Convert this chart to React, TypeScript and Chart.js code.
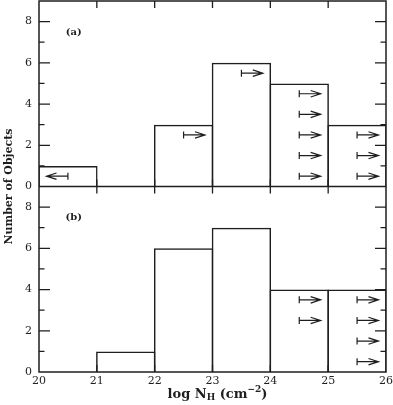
import React, { useEffect, useRef } from 'react';
import { Chart, registerables } from 'chart.js';

Chart.register(...registerables);

// ---- data ----
const binStarts = [20, 21, 22, 23, 24, 25];
const countsA = [1, 0, 3, 6, 5, 3];
const countsB = [0, 1, 6, 7, 4, 4];
const xTickValues = [20, 21, 22, 23, 24, 25, 26];
const yTickLabelValues = [0, 2, 4, 6, 8];
const panelHeight = 9; // y-range of each panel (0..9)
const panelLabels = ['(a)', '(b)'];
// limits: bin start, direction (-1 upper limit / left, +1 lower limit / right), levels
const limitsA = [
  { bin: 20, dir: -1, levels: [0.5] },
  { bin: 22, dir: 1, levels: [2.5] },
  { bin: 23, dir: 1, levels: [5.5] },
  { bin: 24, dir: 1, levels: [0.5, 1.5, 2.5, 3.5, 4.5] },
  { bin: 25, dir: 1, levels: [0.5, 1.5, 2.5] },
];
const limitsB = [
  { bin: 24, dir: 1, levels: [2.5, 3.5] },
  { bin: 25, dir: 1, levels: [0.5, 1.5, 2.5, 3.5] },
];
const yTitle = 'Number of Objects';

const INK = '#1e1e1e';
const LW = 1.5;

const framePlugin = {
  id: 'frameTicks',
  afterDatasetsDraw(chart: any) {
    const { ctx, chartArea, scales } = chart;
    const xs = scales.x;
    const ys = scales.y;
    ctx.save();
    ctx.strokeStyle = INK;
    ctx.fillStyle = INK;

    // limit arrows
    ctx.lineWidth = 1.2;
    const drawLimits = (limits: any[], offset: number) => {
      limits.forEach((l) => {
        l.levels.forEach((lv: number) => {
          const x0 = xs.getPixelForValue(l.bin + 0.5);
          const x1 = xs.getPixelForValue(l.bin + 0.5 + l.dir * 0.37);
          const py = ys.getPixelForValue(lv + offset);
          ctx.beginPath();
          ctx.moveTo(x0, py - 3.5);
          ctx.lineTo(x0, py + 3.5);
          ctx.moveTo(x0, py);
          ctx.lineTo(x1, py);
          ctx.moveTo(x1 - l.dir * 10, py - 3.2);
          ctx.lineTo(x1, py);
          ctx.lineTo(x1 - l.dir * 10, py + 3.2);
          ctx.stroke();
        });
      });
    };
    drawLimits(limitsA, panelHeight);
    drawLimits(limitsB, 0);

    // frame
    ctx.lineWidth = LW;
    const { left, right, top, bottom } = chartArea;
    const mid = ys.getPixelForValue(panelHeight);
    ctx.strokeRect(left, top, right - left, bottom - top);
    ctx.beginPath();
    ctx.moveTo(left, mid);
    ctx.lineTo(right, mid);
    ctx.stroke();

    // y ticks (inward, both sides)
    ctx.lineWidth = 1.3;
    for (let v = 0; v <= 2 * panelHeight; v++) {
      const local = v >= panelHeight ? v - panelHeight : v;
      if (local === 0 || v === 2 * panelHeight) continue;
      const len = local % 2 === 0 ? 11 : 5.5;
      const py = ys.getPixelForValue(v);
      ctx.beginPath();
      ctx.moveTo(left, py);
      ctx.lineTo(left + len, py);
      ctx.moveTo(right, py);
      ctx.lineTo(right - len, py);
      ctx.stroke();
    }
    // x ticks (inward, each panel)
    xTickValues.forEach((v) => {
      const px = xs.getPixelForValue(v);
      if (v === xTickValues[0] || v === xTickValues[xTickValues.length - 1]) return;
      ctx.beginPath();
      ctx.moveTo(px, top);
      ctx.lineTo(px, top + 7);
      ctx.moveTo(px, mid - 7);
      ctx.lineTo(px, mid + 7);
      ctx.moveTo(px, bottom);
      ctx.lineTo(px, bottom - 7);
      ctx.stroke();
    });

    // panel labels
    ctx.font = 'bold 10px "DejaVu Serif"';
    ctx.textAlign = 'center';
    ctx.textBaseline = 'middle';
    ctx.fillText(panelLabels[0], xs.getPixelForValue(20.6), ys.getPixelForValue(panelHeight + 7.5));
    ctx.fillText(panelLabels[1], xs.getPixelForValue(20.6), ys.getPixelForValue(7.5));

    // x title: log N_H (cm^-2)
    const mainFont = 'bold 13px "DejaVu Serif"';
    const smallFont = 'bold 9px "DejaVu Serif"';
    const parts = [
      { t: 'log N', f: mainFont, dy: 0 },
      { t: 'H', f: smallFont, dy: 2 },
      { t: ' (cm', f: mainFont, dy: 0 },
      { t: '\u22122', f: smallFont, dy: -6 },
      { t: ')', f: mainFont, dy: 0 },
    ];
    let total = 0;
    parts.forEach((p) => {
      ctx.font = p.f;
      total += ctx.measureText(p.t).width;
    });
    let cx = 217.5 - total / 2;
    const base = 398;
    ctx.textAlign = 'left';
    ctx.textBaseline = 'alphabetic';
    parts.forEach((p) => {
      ctx.font = p.f;
      ctx.fillText(p.t, cx, base + p.dy);
      cx += ctx.measureText(p.t).width;
    });
    ctx.restore();
  },
};

export default function App() {
  const ref = useRef<HTMLCanvasElement | null>(null);
  useEffect(() => {
    if (!ref.current) return;
    const barsA = binStarts
      .map((b, i) => ({ x: b + 0.5, y: [panelHeight, panelHeight + countsA[i]] }))
      .filter((_, i) => countsA[i] > 0);
    const barsB = binStarts
      .map((b, i) => ({ x: b + 0.5, y: [0, countsB[i]] }))
      .filter((_, i) => countsB[i] > 0);
    const barStyle = {
      backgroundColor: 'rgba(0,0,0,0)',
      borderColor: INK,
      borderWidth: LW,
      borderSkipped: 'start' as any,
      barPercentage: 1 + LW / 57.83,
      categoryPercentage: 1,
      grouped: false,
      clip: 0,
    };
    const tickFont = { family: '"DejaVu Serif"', size: 11 };
    const chart = new Chart(ref.current, {
      type: 'bar',
      data: {
        datasets: [
          { label: 'a', data: barsA as any, ...barStyle },
          { label: 'b', data: barsB as any, ...barStyle },
        ],
      },
      plugins: [framePlugin],
      options: {
        responsive: false,
        animation: false,
        devicePixelRatio: 1,
        layout: { padding: { top: 1, right: 7, left: 0, bottom: 0 } },
        plugins: { legend: { display: false }, tooltip: { enabled: false } },
        scales: {
          x: {
            type: 'linear',
            min: 20,
            max: 26,
            offset: false,
            grid: { display: false, drawTicks: false },
            border: { display: false },
            afterBuildTicks: (s: any) => {
              s.ticks = xTickValues.map((v) => ({ value: v }));
            },
            ticks: {
              font: tickFont,
              color: INK,
              padding: 3,
              maxRotation: 0,
              autoSkip: false,
              callback: (v: any) => String(v),
            },
            afterFit: (s: any) => {
              s.height = 33;
              s.paddingLeft = 0;
              s.paddingRight = 0;
            },
          },
          y: {
            type: 'linear',
            min: 0,
            max: 2 * panelHeight,
            grid: { display: false, drawTicks: false },
            border: { display: false },
            afterBuildTicks: (s: any) => {
              const t: any[] = [];
              yTickLabelValues.forEach((v) => t.push({ value: v }));
              yTickLabelValues.forEach((v) => t.push({ value: v + panelHeight }));
              s.ticks = t;
            },
            ticks: {
              font: tickFont,
              color: INK,
              padding: 7,
              autoSkip: false,
              callback: (v: any) => {
                const n = Number(v);
                return String(n >= panelHeight ? n - panelHeight : n);
              },
            },
            title: {
              display: true,
              text: yTitle,
              font: { family: '"DejaVu Serif"', size: 11, weight: 'bold' },
              color: INK,
              padding: { top: 3, bottom: 0 },
            },
            afterFit: (s: any) => {
              s.width = 39;
              s.paddingTop = 0;
              s.paddingBottom = 0;
            },
          },
        },
      },
    });
    return () => chart.destroy();
  }, []);
  return (
    <div style={{ position: 'fixed', left: 0, top: 0, width: 393, height: 405, background: '#fff' }}>
      <canvas ref={ref} width={393} height={405} style={{ width: 393, height: 405, display: 'block' }} />
    </div>
  );
}
